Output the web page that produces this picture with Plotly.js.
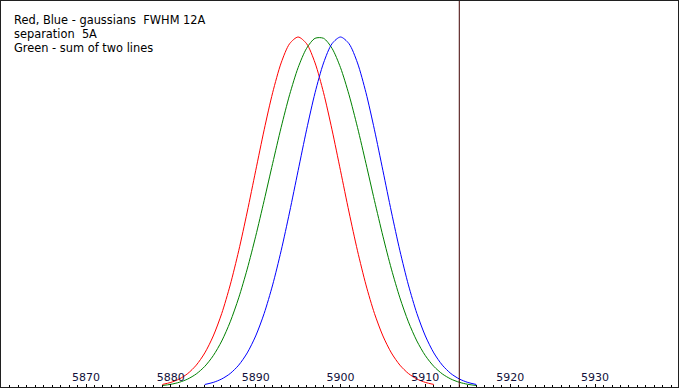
<!DOCTYPE html>
<html>
<head>
<meta charset="utf-8">
<script src="https://cdn.plot.ly/plotly-3.0.1.min.js"></script>
<style>html,body{margin:0;padding:0;background:#fff;}#chart{width:680px;height:390px;}</style>
</head>
<body>
<div id="chart"></div>
<script>
// Red gaussian (center 5895)
const redX = [5879,5880,5881,5882,5883,5884,5885,5886,5887,5888,5889,5890,5891,5892,5893,5894,5895,5896,5897,5898,5899,5900,5901,5902,5903,5904,5905,5906,5907,5908,5909,5910,5911];
const redY = [0.0072,0.0131,0.0230,0.0386,0.0625,0.0973,0.1458,0.2102,0.2917,0.3893,0.5000,0.6180,0.7349,0.8409,0.9259,0.9809,1.0000,0.9809,0.9259,0.8409,0.7349,0.6180,0.5000,0.3893,0.2917,0.2102,0.1458,0.0973,0.0625,0.0386,0.0230,0.0131,0.0072];
// Blue gaussian (center 5900)
const blueX = [5884,5885,5886,5887,5888,5889,5890,5891,5892,5893,5894,5895,5896,5897,5898,5899,5900,5901,5902,5903,5904,5905,5906,5907,5908,5909,5910,5911,5912,5913,5914,5915,5916];
const blueY = [0.0072,0.0131,0.0230,0.0386,0.0625,0.0973,0.1458,0.2102,0.2917,0.3893,0.5000,0.6180,0.7349,0.8409,0.9259,0.9809,1.0000,0.9809,0.9259,0.8409,0.7349,0.6180,0.5000,0.3893,0.2917,0.2102,0.1458,0.0973,0.0625,0.0386,0.0230,0.0131,0.0072];
// Green: sum of the two lines (scaled to same peak)
const greenX = [5879,5880,5881,5882,5883,5884,5885,5886,5887,5888,5889,5890,5891,5892,5893,5894,5895,5896,5897,5898,5899,5900,5901,5902,5903,5904,5905,5906,5907,5908,5909,5910,5911,5912,5913,5914,5915,5916];
const greenY = [0.0042,0.0077,0.0135,0.0229,0.0374,0.0589,0.0896,0.1315,0.1863,0.2548,0.3368,0.4307,0.5330,0.6387,0.7417,0.8351,0.9124,0.9676,0.9963,0.9963,0.9676,0.9124,0.8351,0.7417,0.6387,0.5330,0.4307,0.3368,0.2548,0.1863,0.1315,0.0896,0.0589,0.0374,0.0229,0.0135,0.0077,0.0042];
const markerX = 5914;
const tickVals = [5870,5880,5890,5900,5910,5920,5930];
const tickText = ["5870","5880","5890","5900","5910","5920","5930"];
const noteLines = ["Red, Blue - gaussians  FWHM 12A","separation  5A","Green - sum of two lines"];

const mk = (x,y,c)=>({x:x,y:y,type:'scatter',mode:'lines',line:{color:c,width:1,shape:'spline',smoothing:0.8},hoverinfo:'skip',showlegend:false});
const data = [mk(redX,redY,'#ff0000'), mk(greenX,greenY,'#008000'), mk(blueX,blueY,'#0000ff')];

const font = {family:'DejaVu Sans, Verdana, sans-serif', size:11.4, color:'#000000'};
const annotations = noteLines.map((t,i)=>({
  text:t, xref:'paper', yref:'paper', x:0, y:1, xanchor:'left', yanchor:'top',
  xshift:11, yshift:-(10+14*i), showarrow:false, font:font, align:'left'
}));

const layout = {
  width:680, height:390,
  margin:{l:1,r:2,t:1,b:3,pad:0},
  paper_bgcolor:'#ffffff', plot_bgcolor:'#ffffff',
  showlegend:false,
  xaxis:{range:[5859.98,5939.78], tickvals:tickVals, ticktext:tickText,
    ticks:'inside', ticklen:3, tickcolor:'#000', tickwidth:1,
    ticklabelposition:'inside', ticklabelstandoff:0,
    minor:{dtick:1, tick0:5870, ticks:'inside', ticklen:2, tickcolor:'#000', tickwidth:1, showgrid:false},
    showgrid:false, zeroline:false, showline:true, mirror:true, linecolor:'#202020', linewidth:1,
    tickfont:{family:'DejaVu Sans, Verdana, sans-serif', size:11, color:'#10103a'}},
  yaxis:{range:[0,1.1029], showticklabels:false, ticks:'', showgrid:false, zeroline:false,
    showline:true, mirror:true, linecolor:'#202020', linewidth:1},
  shapes:[{type:'line', xref:'x', yref:'paper', x0:markerX, x1:markerX, y0:0, y1:1, line:{color:'#400000', width:1}}],
  annotations:annotations
};
Plotly.newPlot('chart', data, layout, {staticPlot:true, displayModeBar:false});
</script>
</body>
</html>
